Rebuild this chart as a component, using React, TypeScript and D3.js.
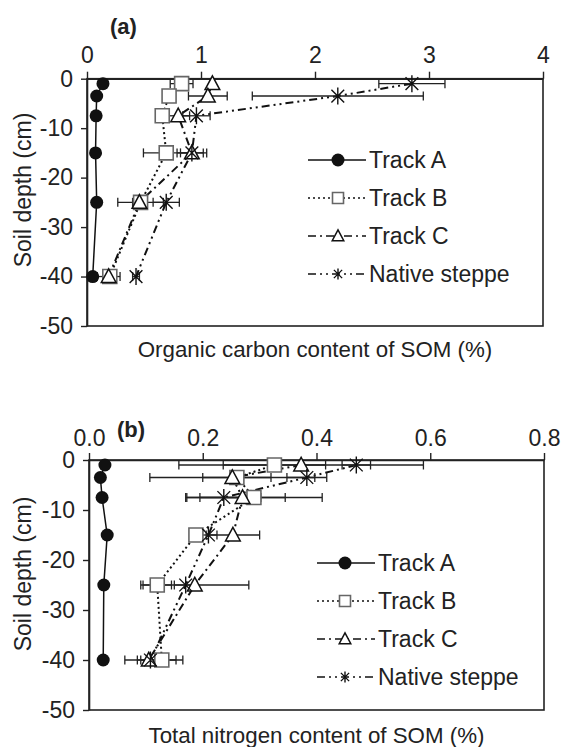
import React, { useEffect, useRef } from "react";
import * as d3 from "d3";

// soil depth of each sample (cm)
const depths = [-1, -3.5, -7.5, -15, -25, -40];
const seriesNames = ["Track A", "Track B", "Track C", "Native steppe"];

// (a) organic carbon content of SOM (%)
const carbonTrackA = [0.14, 0.085, 0.08, 0.075, 0.085, 0.05];
const carbonTrackB = [0.83, 0.72, 0.66, 0.695, 0.47, 0.2];
const carbonTrackC = [1.1, 1.06, 0.8, 0.92, 0.46, 0.19];
const carbonSteppe = [2.85, 2.2, 0.96, 0.92, 0.695, 0.43];
const carbonTrackAErr = [0, 0, 0, 0, 0, 0];
const carbonTrackBErr = [0.1, 0, 0.03, 0.2, 0.2, 0.03];
const carbonTrackCErr = [0, 0.17, 0.1, 0.13, 0.06, 0.1];
const carbonSteppeErr = [0.29, 0.75, 0.12, 0.1, 0.115, 0.03];
const carbonTicks = [0, 1, 2, 3, 4];

// (b) total nitrogen content of SOM (%)
const nitrogenTrackA = [0.028, 0.02, 0.023, 0.032, 0.026, 0.025];
const nitrogenTrackB = [0.326, 0.26, 0.29, 0.188, 0.12, 0.128];
const nitrogenTrackC = [0.373, 0.252, 0.27, 0.253, 0.186, 0.105];
const nitrogenSteppe = [0.47, 0.383, 0.237, 0.21, 0.17, 0.108];
const nitrogenTrackAErr = [0, 0, 0, 0, 0, 0];
const nitrogenTrackBErr = [0.09, 0.06, 0.12, 0.01, 0.025, 0.037];
const nitrogenTrackCErr = [0.215, 0.145, 0.075, 0.047, 0.095, 0.02];
const nitrogenSteppeErr = [0.025, 0.035, 0.065, 0.015, 0.02, 0.045];
const nitrogenTicks = [0, 0.2, 0.4, 0.6, 0.8];

const depthTicks = [0, -10, -20, -30, -40, -50];

const FONT = "Liberation Sans, Arial, sans-serif";
const dashes = [null, "2,3", "8,4,2,4", "8,4,2,4,2,4"];

function markerPath(kind: number, s: number) {
  const h = s / 2;
  if (kind === 1) return `M${-h},${-h}H${h}V${h}H${-h}Z`;
  if (kind === 2) return `M0,${-h * 1.1}L${h * 1.05},${h * 0.85}L${-h * 1.05},${h * 0.85}Z`;
  if (kind === 3) {
    const d = h * 0.75;
    return `M0,${-h}V${h}M${-d},${-d}L${d},${d}M${-d},${d}L${d},${-d}`;
  }
  return d3.symbol(d3.symbolCircle, Math.PI * h * h)() as string;
}

function styleMarker(sel: any, kind: number) {
  if (kind === 0) sel.attr("fill", "#111").attr("stroke", "none");
  else if (kind === 1) sel.attr("fill", "#fff").attr("stroke", "#666").attr("stroke-width", 1.6);
  else if (kind === 2) sel.attr("fill", "#fff").attr("stroke", "#111").attr("stroke-width", 1.5);
  else sel.attr("fill", "none").attr("stroke", "#111").attr("stroke-width", 1.4);
}

function drawPanel(g: any, p: any) {
  const x = d3.scaleLinear().domain(p.xDomain).range(p.xRange);
  const y = d3.scaleLinear().domain([0, -50]).range(p.yRange);

  // frame
  g.append("rect")
    .attr("x", p.xRange[0]).attr("y", p.yRange[0])
    .attr("width", p.xRange[1] - p.xRange[0]).attr("height", p.yRange[1] - p.yRange[0])
    .attr("fill", "none").attr("stroke", "#222").attr("stroke-width", 1.6);

  const top = g.append("g").attr("transform", `translate(0,${p.yRange[0]})`)
    .call(d3.axisTop(x).tickValues(p.xTicks).tickFormat(p.fmt).tickSize(7).tickSizeOuter(0).tickPadding(p.xPad));
  const left = g.append("g").attr("transform", `translate(${p.xRange[0]},0)`)
    .call(d3.axisLeft(y).tickValues(depthTicks).tickFormat((d: any) => String(d)).tickSize(6).tickSizeOuter(0).tickPadding(8));
  [top, left].forEach((a) => {
    a.select(".domain").attr("stroke", "#222").attr("stroke-width", 1.6);
    a.selectAll(".tick line").attr("stroke", "#222").attr("stroke-width", 1.4);
    a.selectAll("text").attr("font-family", FONT).attr("font-size", 23).attr("fill", "#222");
  });

  // lines
  p.values.forEach((vals: number[], i: number) => {
    const line = d3.line<number>().x((v) => x(v)).y((_, j) => y(depths[j]));
    g.append("path").attr("d", line(vals)).attr("fill", "none")
      .attr("stroke", "#111").attr("stroke-width", i === 0 ? 1.5 : 2)
      .attr("stroke-dasharray", dashes[i]);
  });

  // error bars
  p.values.forEach((vals: number[], i: number) => {
    vals.forEach((v, j) => {
      const e = p.errors[i][j];
      if (!e) return;
      const yy = y(depths[j]);
      const bar = g.append("g").attr("stroke", "#222").attr("stroke-width", 1.3);
      bar.append("line").attr("x1", x(v - e)).attr("x2", x(v + e)).attr("y1", yy).attr("y2", yy);
      [v - e, v + e].forEach((c) =>
        bar.append("line").attr("x1", x(c)).attr("x2", x(c)).attr("y1", yy - 4.5).attr("y2", yy + 4.5));
    });
  });

  // markers
  p.values.forEach((vals: number[], i: number) => {
    vals.forEach((v, j) => {
      const m = g.append("path").attr("d", markerPath(i, i === 0 ? 13 : i === 3 ? 17 : 14))
        .attr("transform", `translate(${x(v)},${y(depths[j])})`);
      styleMarker(m, i);
    });
  });

  // legend
  seriesNames.forEach((name, i) => {
    const ly = p.legY + i * 38;
    g.append("line").attr("x1", p.legX[0]).attr("x2", p.legX[2]).attr("y1", ly).attr("y2", ly)
      .attr("stroke", "#111").attr("stroke-width", i === 0 ? 1.5 : 1.6)
      .attr("stroke-dasharray", dashes[i]);
    const m = g.append("path").attr("d", markerPath(i, i === 0 ? 13 : 11))
      .attr("transform", `translate(${p.legX[1]},${ly})`);
    styleMarker(m, i);
    g.append("text").attr("x", p.legX[2] + 3).attr("y", ly).attr("dy", "0.36em")
      .attr("font-family", FONT).attr("font-size", 23).attr("fill", "#222").text(name);
  });

  // titles
  g.append("text").attr("x", p.tag[0]).attr("y", p.tag[1]).attr("font-family", FONT)
    .attr("font-size", 22).attr("font-weight", "bold").attr("fill", "#222").text(p.tagText);
  g.append("text").attr("x", (p.xRange[0] + p.xRange[1]) / 2).attr("y", p.xTitleY)
    .attr("text-anchor", "middle").attr("font-family", FONT).attr("font-size", 22.3).attr("fill", "#222")
    .text(p.xTitle);
  g.append("text").attr("transform", `translate(31,${p.yTitleC}) rotate(-90)`)
    .attr("text-anchor", "middle").attr("font-family", FONT).attr("font-size", 23).attr("fill", "#222")
    .text("Soil depth (cm)");
}

export default function App() {
  const ref = useRef<SVGSVGElement>(null);

  useEffect(() => {
    const svg = d3.select(ref.current);
    svg.selectAll("*").remove();

    drawPanel(svg.append("g"), {
      xDomain: [0, 4], xRange: [87, 543], yRange: [78.7, 326],
      xTicks: carbonTicks, fmt: d3.format("d"), xPad: 9,
      values: [carbonTrackA, carbonTrackB, carbonTrackC, carbonSteppe],
      errors: [carbonTrackAErr, carbonTrackBErr, carbonTrackCErr, carbonSteppeErr],
      legX: [308, 338, 366], legY: 160,
      tag: [110, 34], tagText: "(a)",
      xTitle: "Organic carbon content of SOM (%)", xTitleY: 357, yTitleC: 190,
    });

    drawPanel(svg.append("g"), {
      xDomain: [0, 0.8], xRange: [89, 544], yRange: [460, 710],
      xTicks: nitrogenTicks, fmt: d3.format(".1f"), xPad: 7,
      values: [nitrogenTrackA, nitrogenTrackB, nitrogenTrackC, nitrogenSteppe],
      errors: [nitrogenTrackAErr, nitrogenTrackBErr, nitrogenTrackCErr, nitrogenSteppeErr],
      legX: [317, 345, 375], legY: 563,
      tag: [117, 437], tagText: "(b)",
      xTitle: "Total nitrogen content of SOM (%)", xTitleY: 743, yTitleC: 574,
    });
  }, []);

  return (
    <svg ref={ref} width={564} height={747}
      style={{ position: "absolute", left: 0, top: 0, background: "#fff" }} />
  );
}
